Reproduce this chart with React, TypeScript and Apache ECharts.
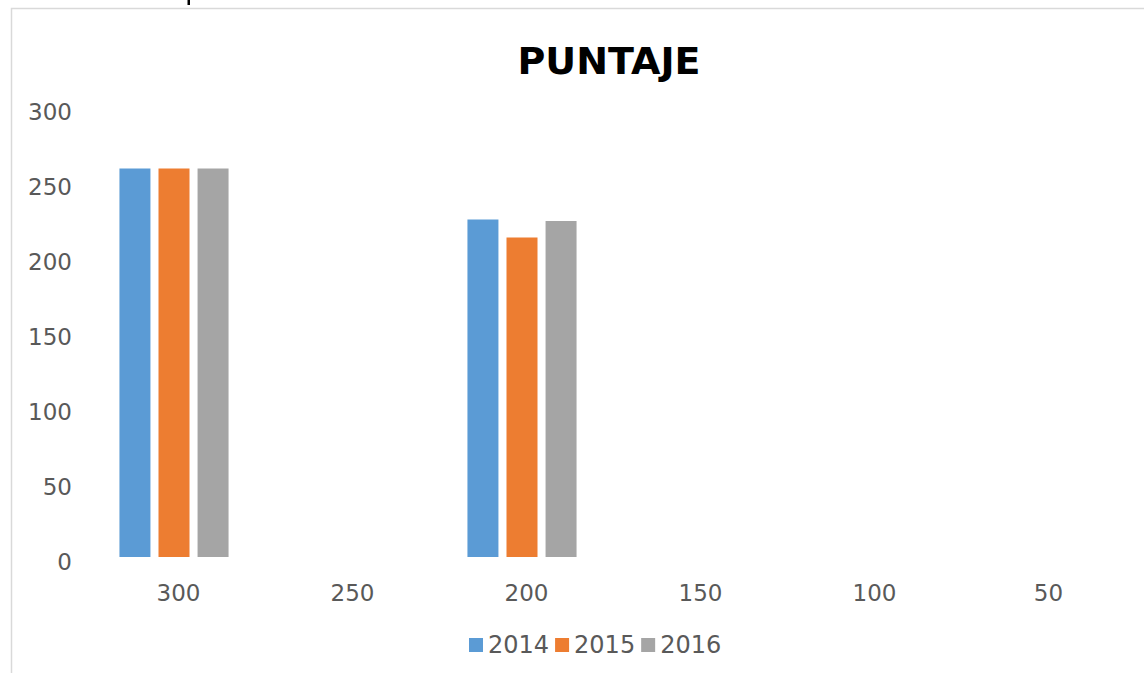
import React, { useEffect, useRef } from "react";
import * as echarts from "echarts";

const categories = ["300", "250", "200", "150", "100", "50"];
const yTicks = [0, 300, 50];
const seriesNames = ["2014", "2015", "2016"];
const values2014 = [259, null, 225, null, null, null];
const values2015 = [259, null, 213, null, null, null];
const values2016 = [259, null, 224, null, null, null];
const colors = ["#5B9BD5", "#ED7D31", "#A5A5A5"];

export default function App() {
  const ref = useRef<HTMLDivElement>(null);
  useEffect(() => {
    if (!ref.current) return;
    const chart = echarts.init(ref.current, null, { renderer: "svg" });
    const font = "DejaVu Sans";
    const data = [values2014, values2015, values2016];
    chart.setOption({
      animation: false,
      backgroundColor: "#ffffff",
      title: {
        text: "PUNTAJE",
        left: 604,
        top: 37,
        textAlign: "center",
        textStyle: { fontFamily: font, fontSize: 38, fontWeight: "bold", color: "#000000" },
      },
      legend: {
        data: seriesNames,
        left: 464,
        top: 628,
        itemWidth: 14,
        itemHeight: 14,
        itemGap: 6,
        icon: "rect",
        textStyle: { fontFamily: font, fontSize: 24, color: "#595959" },
      },
      graphic: [
        {
          type: "polyline",
          shape: { points: [[11.5, 700], [11.5, 8.5], [1200, 8.5]] },
          style: { fill: "none", stroke: "#d9d9d9", lineWidth: 1.5 },
          silent: true,
        },
        {
          type: "rect",
          shape: { x: 187.5, y: 0, width: 2.5, height: 5 },
          style: { fill: "#000000" },
          silent: true,
        },
      ],
      grid: [
        { left: 87, right: 13, top: 107, bottom: 116, containLabel: false },
        { left: 87, right: 13, top: 112, bottom: 111, containLabel: false },
      ],
      xAxis: [
        {
          type: "category",
          gridIndex: 0,
          data: categories,
          axisLine: { show: false },
          axisTick: { show: false },
          axisLabel: {
            fontFamily: font,
            fontSize: 23,
            color: "#595959",
            margin: 24,
            padding: [0, 0, 0, 9],
          },
        },
        {
          type: "category",
          gridIndex: 1,
          data: categories,
          show: false,
        },
      ],
      yAxis: [
        {
          type: "value",
          gridIndex: 0,
          min: yTicks[0],
          max: yTicks[1],
          interval: yTicks[2],
          axisLine: { show: false },
          axisTick: { show: false },
          splitLine: { show: false },
          axisLabel: { show: false },
        },
        {
          type: "value",
          gridIndex: 1,
          min: yTicks[0],
          max: yTicks[1],
          interval: yTicks[2],
          axisLine: { show: false },
          axisTick: { show: false },
          splitLine: { show: false },
          axisLabel: {
            fontFamily: font,
            fontSize: 23,
            color: "#595959",
            margin: 15,
          },
        },
      ],
      series: seriesNames.map((name, i) => ({
        name,
        type: "bar",
        xAxisIndex: 0,
        yAxisIndex: 0,
        data: data[i],
        barWidth: 31,
        barGap: "26%",
        itemStyle: { color: colors[i] },
      })),
    });
    return () => chart.dispose();
  }, []);
  return (
    <div
      ref={ref}
      style={{ position: "fixed", left: 0, top: 0, width: 1144, height: 673 }}
    />
  );
}
